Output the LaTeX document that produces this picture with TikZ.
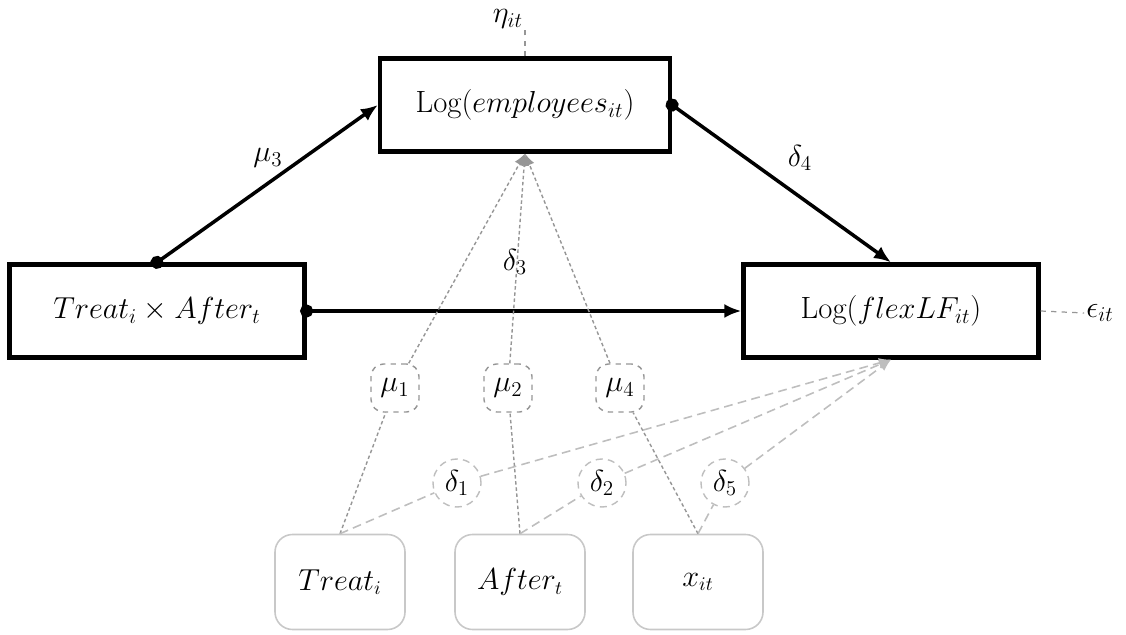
\documentclass[tikz,border=0pt]{standalone}
\usetikzlibrary{arrows.meta}
\definecolor{linegray}{RGB}{150,150,150}
\definecolor{dashgray}{RGB}{190,190,190}
\definecolor{boxgray}{RGB}{200,200,200}

\begin{document}
\begin{tikzpicture}[x=0.2mm,y=-0.2mm,
  mainbox/.style={draw,line width=2.4pt,minimum width=59mm,minimum height=18.6mm,font=\fontsize{17.5}{21}\selectfont},
  mubox/.style={draw=linegray,dashed,line width=0.8pt,rounded corners=2.5mm,minimum size=9.6mm,inner sep=0pt,font=\fontsize{17}{20}\selectfont},
  dcirc/.style={circle,draw=dashgray,dash pattern=on 4pt off 3pt,line width=0.8pt,minimum size=9.6mm,inner sep=0pt,font=\fontsize{17}{20}\selectfont},
  inbox/.style={draw=boxgray,line width=0.9pt,rounded corners=3.5mm,minimum width=26mm,minimum height=19mm,font=\fontsize{16}{19}\selectfont},
  lbl/.style={font=\fontsize{17.5}{21}\selectfont,inner sep=1pt},
  path/.style={line width=2pt,{Circle[length=2.6mm]}-{Latex[length=3.4mm,width=2.8mm]},shorten <=-1.3mm},
  muline/.style={draw=linegray,line width=0.8pt,dash pattern=on 2pt off 1.5pt,-{Latex[length=2.4mm,width=2mm]}},
  dline/.style={draw=dashgray,line width=0.9pt,dash pattern=on 5pt off 3pt,-{Latex[length=2.4mm,width=2mm]}},
  err/.style={draw=linegray,line width=0.7pt,dashed}]
          \useasboundingbox (0,0) rectangle (1126,635);
          % vertices
          \node[mainbox,minimum width=58mm] (emp) at (525,105) {Log($employees_{it}$)};
          \node[mainbox] (ta) at (157,311) {$Treat_i \times After_t$};
          \node[mainbox] (flex) at (891,311) {Log($flexLF_{it}$)};
          \node[mubox] (mu1) at (395,388) {$\mu_1$};
          \node[mubox] (mu2) at (508,388) {$\mu_2$};
          \node[mubox] (mu4) at (620,388) {$\mu_4$};
          \node[dcirc] (d1) at (457,483) {$\delta_1$};
          \node[dcirc] (d2) at (602,483) {$\delta_2$};
          \node[dcirc] (d5) at (725,483) {$\delta_5$};
          \node[inbox] (tr) at (340,582) {$Treat_i$};
          \node[inbox] (af) at (520,582) {$After_t$};
          \node[inbox] (xi) at (698,582) {$x_{it}$};
          % labels
          \node[lbl] (eta) at (508,19) {$\eta_{it}$};
          \node[lbl] (eps) at (1100,313) {$\epsilon_{it}$};
          \node[lbl] (mu3) at (268,158) {$\mu_3$};
          \node[lbl] (d4) at (800,158) {$\delta_4$};
          \node[lbl] (d3) at (515,262) {$\delta_3$};
          \coordinate (etaend) at (525,30);
          % edges
          \draw[path] (ta.north) -- (emp.west);
          \draw[path] (emp.east) -- (flex.north);
          \draw[path] (ta.east) -- (flex.west);
          \draw[muline] (tr.north) -- (mu1) -- (emp.south);
          \draw[muline] (af.north) -- (mu2) -- (emp.south);
          \draw[muline] (xi.north) -- (mu4) -- (emp.south);
          \draw[dline] (tr.north) -- (d1) -- (flex.south);
          \draw[dline] (af.north) -- (d2) -- (flex.south);
          \draw[dline] (xi.north) -- (d5) -- (flex.south);
          \draw[err] (emp.north) -- (etaend);
          \draw[err] (flex.east) -- (eps.west);
        \end{tikzpicture}
\end{document}
